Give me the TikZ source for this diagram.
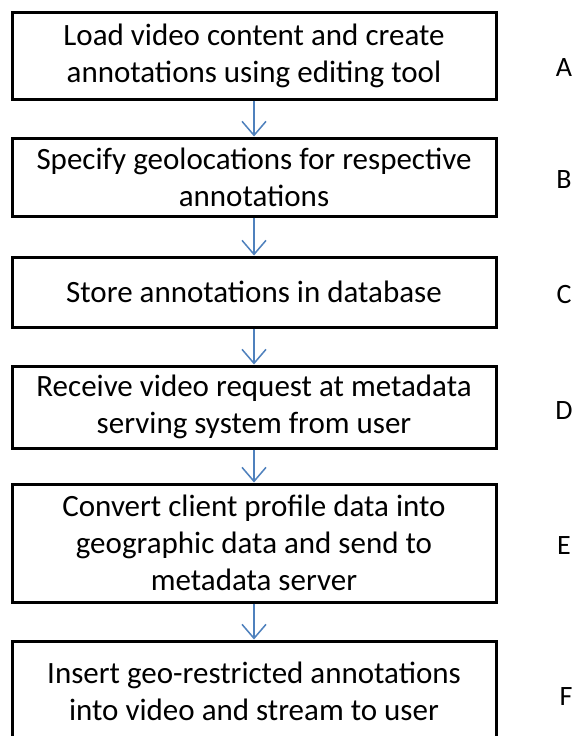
\documentclass[tikz,border=0pt]{standalone}
\usepackage{fontspec}
\setmainfont{Carlito}
\usetikzlibrary{arrows.meta}
\definecolor{arrowblue}{RGB}{79,129,189}
\tikzset{
  stepbox/.style={draw=black, line width=3pt, fill=white, align=center, inner sep=0pt,
    font=\fontsize{31}{37}\selectfont},
  steplabel/.style={font=\fontsize{28}{34}\selectfont, inner sep=0pt},
  flow/.style={draw=arrowblue, line width=1.5pt, -{Straight Barb[length=14pt,width=24pt]}}
}
\begin{document}
\begin{tikzpicture}[x=1pt,y=-1pt]
\useasboundingbox (0,0) rectangle (578,736);
\clip (0,0) rectangle (578,736);
\fill[white] (0,0) rectangle (578,736);
\node[stepbox, minimum width=484pt, minimum height=87pt] (A) at (254,55.5) {Load video content and create\\annotations using editing tool};
\node[stepbox, minimum width=484pt, minimum height=78pt] (B) at (254,177) {Specify geolocations for respective\\annotations};
\node[stepbox, minimum width=484pt, minimum height=70pt] (C) at (254,292) {Store annotations in database};
\node[stepbox, minimum width=484pt, minimum height=82pt] (D) at (254,407) {Receive video request at metadata\\serving system from user};
\node[stepbox, minimum width=484pt, minimum height=118pt] (E) at (254,543) {Convert client profile data into\\geographic data and send to\\metadata server};
\node[stepbox, minimum width=484pt, minimum height=100pt] (F) at (254,691) {Insert geo-restricted annotations\\into video and stream to user};
\node[steplabel] (lA) at (564,68) {A};
\node[steplabel] (lB) at (564,180) {B};
\node[steplabel] (lC) at (564,295) {C};
\node[steplabel] (lD) at (564,411) {D};
\node[steplabel] (lE) at (564,546) {E};
\node[steplabel] (lF) at (566,697) {F};
\draw[flow] (A.south) -- (B.north);
\draw[flow] (B.south) -- (C.north);
\draw[flow] (C.south) -- (D.north);
\draw[flow] (D.south) -- (E.north);
\draw[flow] (E.south) -- (F.north);
\end{tikzpicture}
\end{document}
